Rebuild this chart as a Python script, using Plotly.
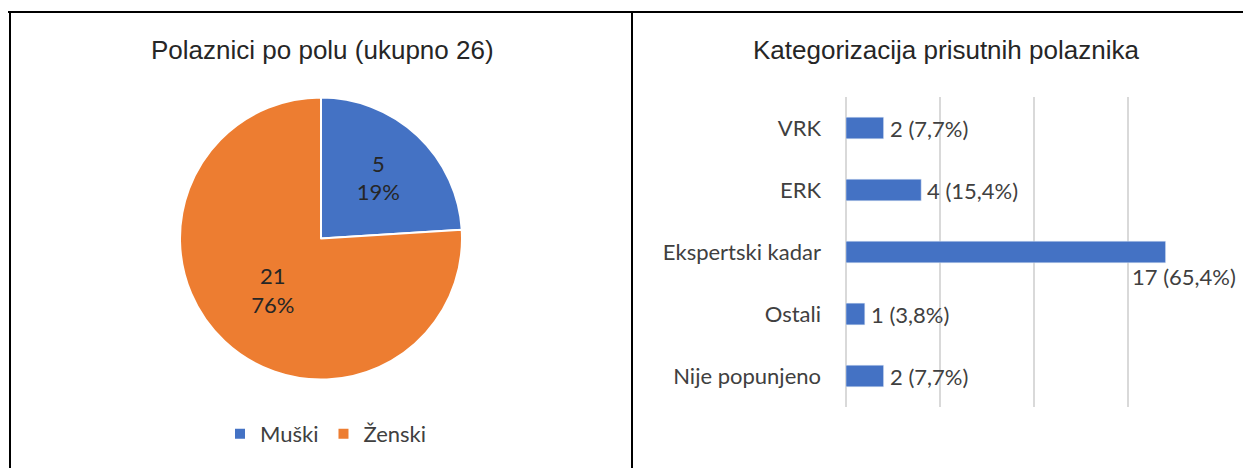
import plotly.graph_objects as go

# left chart: participants by gender
gender_labels = ["Muški", "Ženski"]
gender_counts = [5, 21]
gender_pct_text = ["19%", "76%"]
gender_slice_share = [24, 76]  # slice sizes as drawn in the picture

# right chart: categories of attendees
categories = ["VRK", "ERK", "Ekspertski kadar", "Ostali", "Nije popunjeno"]
cat_counts = [2, 4, 17, 1, 2]
cat_pct = ["7,7%", "15,4%", "65,4%", "3,8%", "7,7%"]

BLUE = "#4472C4"
ORANGE = "#ED7D31"
TEXT = "#404040"
GRID = "#D9D9D9"
LABEL_FONT = "Lato"
TITLE_FONT = "Liberation Sans"
W, H = 1243, 468
X_MAX = 20.05

fig = go.Figure()

fig.add_trace(go.Pie(
    labels=gender_labels,
    values=gender_slice_share,
    text=[f"{c}<br>{p}" for c, p in zip(gender_counts, gender_pct_text)],
    textinfo="text",
    textposition="inside",
    insidetextorientation="horizontal",
    textfont=dict(family=LABEL_FONT, size=22, color="#262626"),
    marker=dict(colors=[BLUE, ORANGE], line=dict(color="white", width=2)),
    sort=False,
    direction="clockwise",
    rotation=0,
    domain=dict(x=[180 / W, 462 / W], y=[(H - 380) / H, (H - 97) / H]),
    hoverinfo="label+value",
))

fig.add_trace(go.Bar(
    x=cat_counts,
    y=categories,
    orientation="h",
    marker=dict(color=BLUE),
    width=0.35,
    showlegend=False,
    xaxis="x",
    yaxis="y",
))

# bar value labels
for c, y, p in zip(cat_counts, categories, cat_pct):
    if c == max(cat_counts):
        fig.add_annotation(x=c, y=y, xref="x", yref="y", text=f"{c} ({p})",
                           showarrow=False, xanchor="center", yanchor="middle",
                           xshift=18, yshift=-24,
                           font=dict(family=LABEL_FONT, size=22, color=TEXT))
    else:
        fig.add_annotation(x=c, y=y, xref="x", yref="y", text=f"{c} ({p})",
                           showarrow=False, xanchor="left", yanchor="middle",
                           xshift=4,
                           font=dict(family=LABEL_FONT, size=22, color=TEXT))

# titles
fig.add_annotation(x=322 / W, y=1 - 50 / H, xref="paper", yref="paper",
                   text="Polaznici po polu (ukupno 26)", showarrow=False,
                   xanchor="center", yanchor="middle",
                   font=dict(family=TITLE_FONT, size=26, color="#262626"))
fig.add_annotation(x=946 / W, y=1 - 50 / H, xref="paper", yref="paper",
                   text="Kategorizacija prisutnih polaznika", showarrow=False,
                   xanchor="center", yanchor="middle",
                   font=dict(family=TITLE_FONT, size=26, color="#262626"))

# frame lines
frame = dict(type="line", xref="paper", yref="paper", line=dict(color="black", width=2))
fig.add_shape(**frame, x0=8 / W, x1=1, y0=1 - 12 / H, y1=1 - 12 / H)
fig.add_shape(**frame, x0=10 / W, x1=10 / W, y0=0, y1=1 - 12 / H)
fig.add_shape(**frame, x0=632 / W, x1=632 / W, y0=0, y1=1 - 12 / H)

fig.update_layout(
    width=W,
    height=H,
    paper_bgcolor="white",
    plot_bgcolor="white",
    margin=dict(t=0, b=0, l=0, r=0),
    font=dict(family=LABEL_FONT, color=TEXT),
    showlegend=True,
    legend=dict(orientation="h", x=326 / W, y=34 / H, xanchor="center", yanchor="middle",
                itemwidth=30,
                font=dict(family=LABEL_FONT, size=22, color=TEXT)),
    xaxis=dict(domain=[846 / W, (846 + X_MAX * 18.8) / W], range=[0, X_MAX], dtick=5,
               showgrid=True, gridcolor=GRID, gridwidth=1.5,
               zeroline=True, zerolinecolor=GRID, zerolinewidth=1.5,
               showticklabels=False, showline=False, fixedrange=True),
    yaxis=dict(domain=[(H - 407) / H, (H - 97) / H], autorange="reversed",
               showgrid=False, showline=False, zeroline=False, ticks="",
               ticklabelstandoff=24,
               tickfont=dict(family=LABEL_FONT, size=22, color=TEXT)),
    bargap=0.65,
)

fig.write_html("out.html", config={"displayModeBar": False},
               post_script="document.body.style.margin='0';")
